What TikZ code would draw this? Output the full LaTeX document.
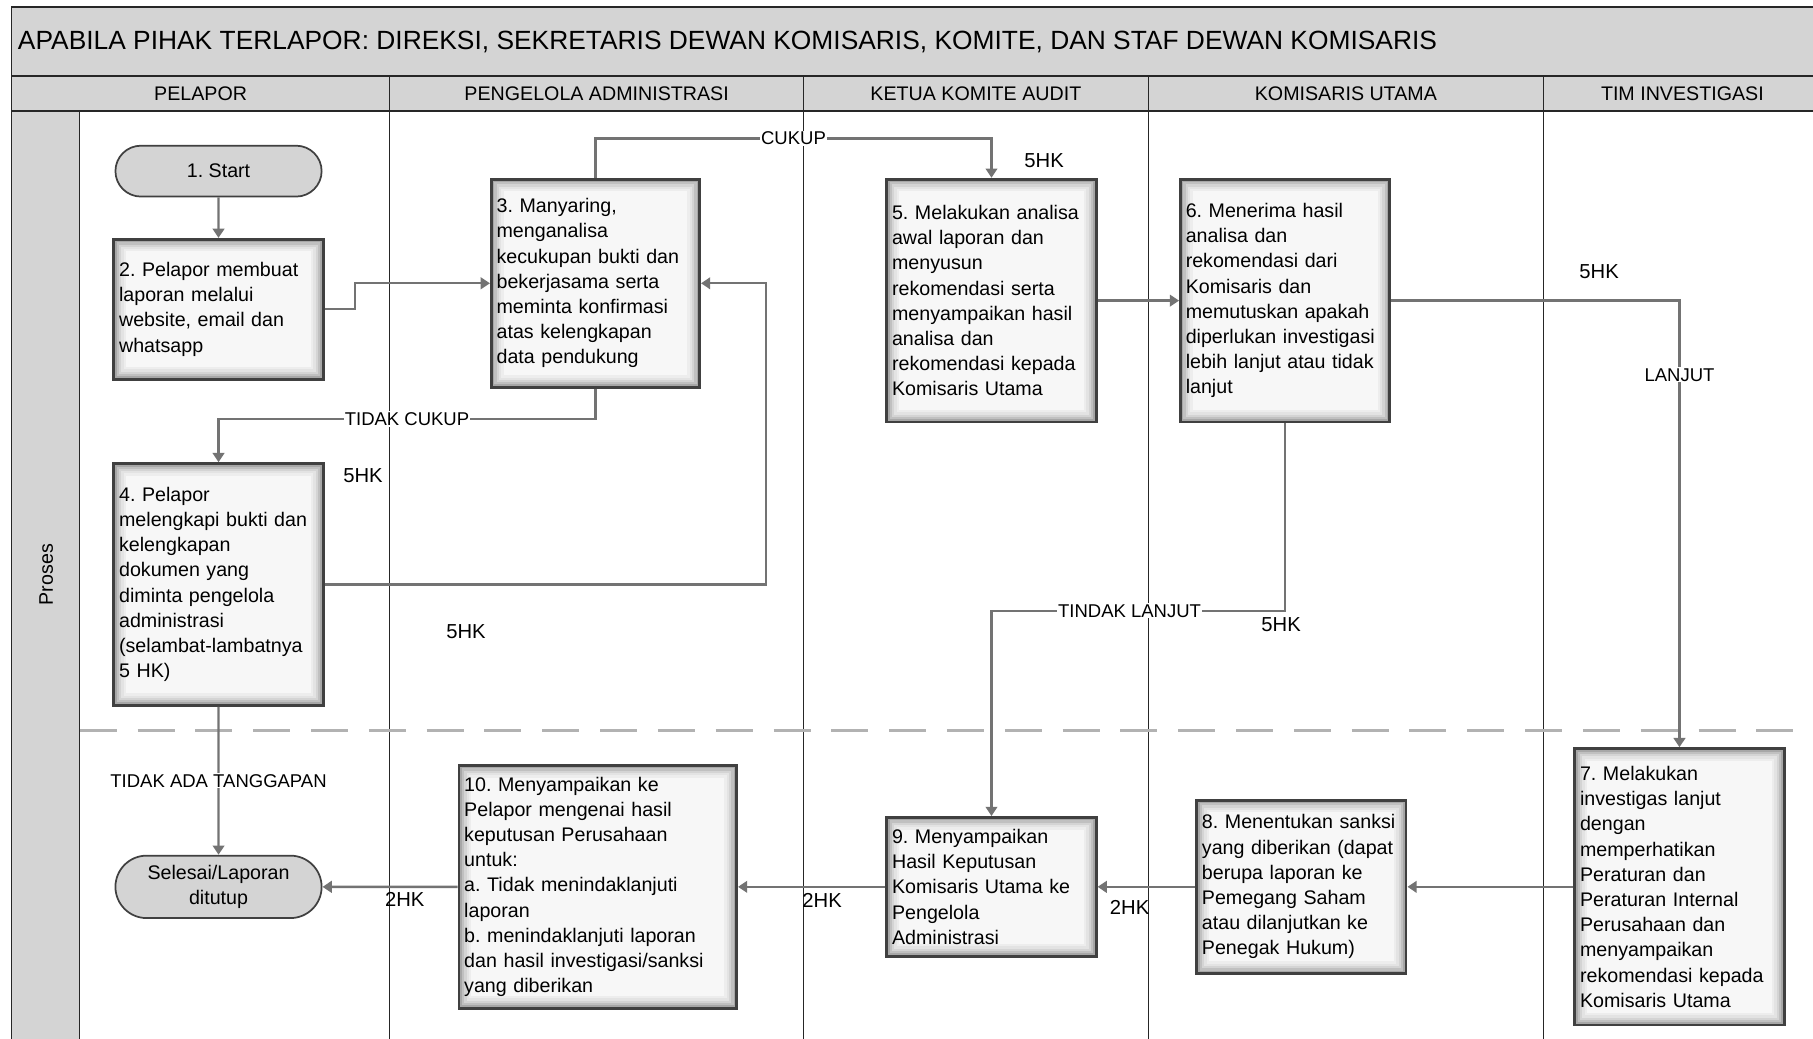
\documentclass[tikz,border=0pt]{standalone}
\usepackage{fontspec}
\setmainfont{Liberation Sans}
\usetikzlibrary{arrows.meta,shapes.misc}
\frenchspacing

\newcommand\titlefont{\fontsize{22.8}{26}\selectfont}
\newcommand\headfont{\fontsize{17}{20}\selectfont}
\newcommand\boxfont{\fontsize{17}{21.8}\selectfont}
\newcommand\lblfont{\fontsize{16}{18}\selectfont}
\newcommand\hkfont{\fontsize{17.5}{20}\selectfont}

\tikzset{
	procbox/.style={draw=black!75, line width=2.5pt, fill=black!3, inner xsep=4.5pt, inner ysep=2pt, align=left, font=\boxfont,
		path picture={
			\foreach \d/\o in {1.5/0.32,3.5/0.22,5.5/0.14,7.5/0.08,9.5/0.04}
				\draw[black, opacity=\o, line width=2pt] ([shift={(\d pt,-\d pt)}]path picture bounding box.north west) rectangle ([shift={(-\d pt,\d pt)}]path picture bounding box.south east);
		}},
	termbox/.style={rounded rectangle, draw=black!75, line width=1.5pt, fill=black!17, minimum width=185pt, align=center, font=\boxfont},
	flow/.style={draw=black!55, line width=2pt, -{Triangle[length=8pt,width=10pt]}},
	lbl/.style={fill=white, inner sep=1pt, font=\lblfont},
	hk/.style={font=\hkfont},
	lane/.style={draw=black!85, line width=1pt}
}

\begin{document}
\begin{tikzpicture}[x=1pt,y=-1pt]

\useasboundingbox (0,0) rectangle (1568,898);
\clip (0,0) rectangle (1568,898);

% title, header and lanes
\fill[black!17] (10,6) rectangle (1590,96);
\fill[black!17] (10,96) rectangle (69,910);
\draw[lane, line width=1.5pt] (10,910) -- (10,6) -- (1590,6);
\draw[lane, line width=1.5pt] (10,66) -- (1590,66);
\draw[lane, line width=1.5pt] (10,96) -- (1590,96);
\draw[lane] (69,96) -- (69,910);
\foreach \x in {337,695,993,1335} {
	\draw[lane] (\x,66) -- (\x,910);
}
\draw[black!30, line width=2.5pt, dash pattern=on 32pt off 18pt] (69,632) -- (1568,632);

\node[anchor=west, font=\titlefont] (title) at (12,36) {APABILA PIHAK TERLAPOR: DIREKSI, SEKRETARIS DEWAN KOMISARIS, KOMITE, DAN STAF DEWAN KOMISARIS};
\node[font=\headfont] (hpelapor) at (173.5,81) {PELAPOR};
\node[font=\headfont] (hadmin) at (516,81) {PENGELOLA ADMINISTRASI};
\node[font=\headfont] (hketua) at (844,81) {KETUA KOMITE AUDIT};
\node[font=\headfont] (hkomut) at (1164,81) {KOMISARIS UTAMA};
\node[font=\headfont] (htim) at (1455,81) {TIM INVESTIGASI};
\node[font=\headfont, rotate=90] (proses) at (40,497) {Proses};

% steps
\node[termbox, minimum height=44pt] (start) at (189,148) {1. Start};
\node[procbox, text width=172pt, minimum height=121pt] (b2) at (189,267.5) {2. Pelapor membuat\\laporan melalui\\website, email dan\\whatsapp};
\node[procbox, text width=171pt, minimum height=180pt] (b3) at (515,245) {3. Manyaring,\\menganalisa\\kecukupan bukti dan\\bekerjasama serta\\meminta konfirmasi\\atas kelengkapan\\data pendukung};
\node[procbox, text width=172pt, minimum height=209pt] (b4) at (189,505.5) {4. Pelapor\\melengkapi bukti dan\\kelengkapan\\dokumen yang\\diminta pengelola\\administrasi\\(selambat-lambatnya\\5 HK)};
\node[procbox, text width=172pt, minimum height=210pt] (b5) at (857.5,260) {5. Melakukan analisa\\awal laporan dan\\menyusun\\rekomendasi serta\\menyampaikan hasil\\analisa dan\\rekomendasi kepada\\Komisaris Utama};
\node[procbox, text width=172pt, minimum height=210pt] (b6) at (1111.5,260) {6. Menerima hasil\\analisa dan\\rekomendasi dari\\Komisaris dan\\memutuskan apakah\\diperlukan investigasi\\lebih lanjut atau tidak\\lanjut};
\node[procbox, text width=172pt, minimum height=239pt] (b7) at (1452.5,767) {7. Melakukan\\investigas lanjut\\dengan\\memperhatikan\\Peraturan dan\\Peraturan Internal\\Perusahaan dan\\menyampaikan\\rekomendasi kepada\\Komisaris Utama};
\node[procbox, text width=172pt, minimum height=150pt] (b8) at (1125.5,767) {8. Menentukan sanksi\\yang diberikan (dapat\\berupa laporan ke\\Pemegang Saham\\atau dilanjutkan ke\\Penegak Hukum)};
\node[procbox, text width=172pt, minimum height=120pt] (b9) at (857.5,767) {9. Menyampaikan\\Hasil Keputusan\\Komisaris Utama ke\\Pengelola\\Administrasi};
\node[procbox, text width=231pt, minimum height=210pt] (b10) at (517,767) {10. Menyampaikan ke\\Pelapor mengenai hasil\\keputusan Perusahaan\\untuk:\\a. Tidak menindaklanjuti\\laporan\\b. menindaklanjuti laporan\\dan hasil investigasi/sanksi\\yang diberikan};
\node[termbox, minimum height=54pt] (endt) at (189,767) {Selesai/Laporan\\ditutup};

% time labels
\node[hk] (hk5a) at (903,139) {5HK};
\node[hk] (hk5b) at (314,411) {5HK};
\node[hk] (hk5c) at (403,546) {5HK};
\node[hk] (hk5d) at (1383,235) {5HK};
\node[hk] (hk5e) at (1108,540) {5HK};
\node[hk] (hk2a) at (350,778) {2HK};
\node[hk] (hk2b) at (711,779) {2HK};
\node[hk] (hk2c) at (977,785) {2HK};

% connectors
\draw[flow] (start) -- (b2);
\draw[flow] (b2.east) -- ++(26,0) |- (b3.west);
\draw[flow] (b3.north) -- ++(0,-34) -| node[lbl, pos=0.25] {CUKUP} (b5.north);
\draw[flow] (b3.south) -- ++(0,26) -| node[lbl, pos=0.25] {TIDAK CUKUP} (b4.north);
\draw[flow] (b4.east) -- ++(382,0) |- (b3.east);
\draw[flow] (b5) -- (b6);
\draw[flow] (b6.east) -| node[lbl, pos=0.583] {LANJUT} (b7.north);
\draw[flow] (b6.south) -- ++(0,162) -| node[lbl, pos=0.265] {TINDAK LANJUT} (b9.north);
\draw[flow] (b7) -- (b8);
\draw[flow] (b8) -- (b9);
\draw[flow] (b9) -- (b10);
\draw[flow] (b10) -- (endt);
\draw[flow] (b4) -- node[lbl] {TIDAK ADA TANGGAPAN} (endt);

\end{tikzpicture}
\end{document}
